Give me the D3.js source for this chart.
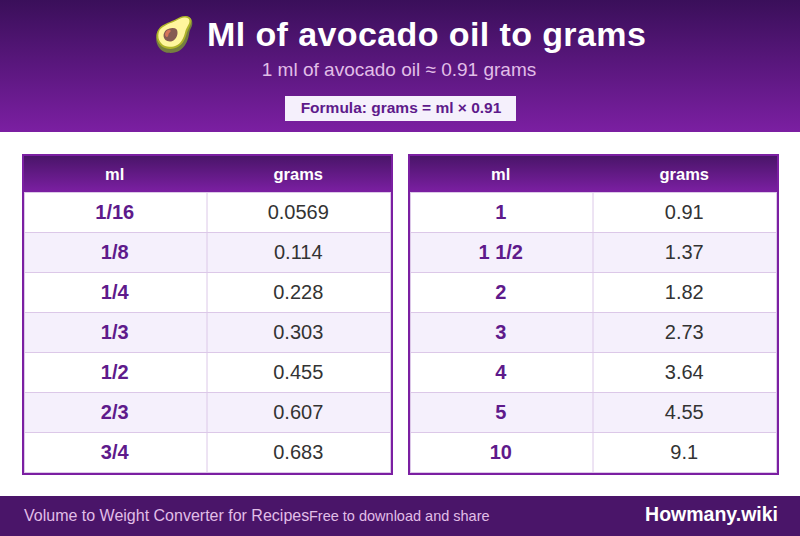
<!DOCTYPE html>
<html>
<head>
<meta charset="utf-8">
<script src="https://cdn.jsdelivr.net/npm/d3@7"></script>
<style>
  html, body { margin: 0; padding: 0; background: #fff; }
  svg { display: block; font-family: "Liberation Sans", Arial, sans-serif; }
</style>
</head>
<body>
<div id="chart"></div>
<script>
const titleIcon = "🥑";
const title = "Ml of avocado oil to grams";
const subtitle = "1 ml of avocado oil ≈ 0.91 grams";
const formula = "Formula: grams = ml × 0.91";
const footerLeft = "Volume to Weight Converter for Recipes";
const footerMiddle = "Free to download and share";
const footerRight = "Howmany.wiki";
const columns = ["ml", "grams"];
const mlLeft = ["1/16", "1/8", "1/4", "1/3", "1/2", "2/3", "3/4"];
const gramsLeft = ["0.0569", "0.114", "0.228", "0.303", "0.455", "0.607", "0.683"];
const mlRight = ["1", "1 1/2", "2", "3", "4", "5", "10"];
const gramsRight = ["0.91", "1.37", "1.82", "2.73", "3.64", "4.55", "9.1"];

const w = 800;
const h = 536;
const purple = "#7b1fa2";
const darkPurple = "#4a1569";
const accent = "#5e1a8b";
const cellLine = "#dcc8e8";
const paleText = "#e1bee7";

const svg = d3.select("#chart").append("svg").attr("width", w).attr("height", h);

const defs = svg.append("defs");
const addGradient = (id, from, to) => {
  const g = defs.append("linearGradient").attr("id", id)
    .attr("x1", 0).attr("y1", 0).attr("x2", 0).attr("y2", 1);
  g.append("stop").attr("offset", "0%").attr("stop-color", from);
  g.append("stop").attr("offset", "100%").attr("stop-color", to);
};
addGradient("headerGrad", "#3a0f5a", purple);
addGradient("theadGrad", darkPurple, purple);

// header band
svg.append("rect").attr("width", w).attr("height", 132).attr("fill", "url(#headerGrad)");
svg.append("text").attr("x", 174).attr("y", 46).attr("text-anchor", "middle")
  .attr("font-size", 34).attr("fill", "#fff").text(titleIcon);
svg.append("text").attr("x", 207).attr("y", 46)
  .attr("font-size", 34).attr("font-weight", "bold").attr("fill", "#fff")
  .style("letter-spacing", "0.4px").text(title);
svg.append("text").attr("x", 399).attr("y", 76).attr("text-anchor", "middle")
  .attr("font-size", 19).attr("fill", paleText).text(subtitle);
svg.append("rect").attr("x", 285).attr("y", 96).attr("width", 231).attr("height", 25).attr("fill", "#f5f0fc");
svg.append("text").attr("x", 401).attr("y", 113).attr("text-anchor", "middle")
  .attr("font-size", 15.5).attr("font-weight", "bold").attr("fill", accent).text(formula);

const drawTable = (x0, ml, grams) => {
  const rows = ml.map((d, i) => ({ ml: d, grams: grams[i] }));
  const x = d3.scaleBand().domain(columns).range([x0 + 2, x0 + 369]);
  const y = d3.scaleBand().domain(d3.range(rows.length)).range([192, 472]);
  const g = svg.append("g");

  g.append("rect").attr("x", x0 + 1).attr("y", 155).attr("width", 369).attr("height", 319)
    .attr("fill", "#fff").attr("stroke", purple).attr("stroke-width", 2);
  g.append("rect").attr("x", x0 + 2).attr("y", 156).attr("width", 367).attr("height", 36)
    .attr("fill", "url(#theadGrad)");

  g.selectAll(".head").data(columns).enter().append("text")
    .attr("class", "head")
    .attr("x", (d) => x(d) + x.bandwidth() / 2 - 1).attr("y", 180)
    .attr("text-anchor", "middle").attr("font-size", 16.5).attr("font-weight", "bold")
    .attr("fill", "#fff").text((d) => d);

  const row = g.selectAll(".row").data(rows).enter().append("g")
    .attr("class", "row")
    .attr("transform", (d, i) => `translate(0,${y(i)})`);
  row.append("rect").attr("x", x0 + 2).attr("y", 0).attr("width", 367).attr("height", y.bandwidth())
    .attr("fill", (d, i) => (i % 2 ? "#f5f0fc" : "#fff"));
  row.append("text").attr("x", x("ml") + x.bandwidth() / 2 - 1).attr("y", 27)
    .attr("text-anchor", "middle").attr("font-size", 20).attr("font-weight", "bold")
    .attr("fill", accent).text((d) => d.ml);
  row.append("text").attr("x", x("grams") + x.bandwidth() / 2 - 1).attr("y", 27)
    .attr("text-anchor", "middle").attr("font-size", 20).attr("fill", "#333").text((d) => d.grams);

  // cell borders go on top of the row fills
  const border = g.append("g").attr("fill", "none").attr("stroke", cellLine);
  border.selectAll(".rowline").data(rows).enter().append("line")
    .attr("class", "rowline")
    .attr("x1", x0 + 2).attr("x2", x0 + 369)
    .attr("y1", (d, i) => y(i) + 0.5).attr("y2", (d, i) => y(i) + 0.5);
  border.append("rect").attr("x", x0 + 2.5).attr("y", 192.5).attr("width", 366).attr("height", 280);
  border.append("line").attr("x1", x("grams") - 0.5).attr("x2", x("grams") - 0.5).attr("y1", 192).attr("y2", 473);
};
drawTable(22, mlLeft, gramsLeft);
drawTable(408, mlRight, gramsRight);

// footer band
svg.append("rect").attr("y", 496).attr("width", w).attr("height", 40).attr("fill", darkPurple);
svg.append("text").attr("x", 24).attr("y", 521).attr("font-size", 16).attr("fill", paleText).text(footerLeft);
svg.append("text").attr("x", 309).attr("y", 521).attr("font-size", 14.5).attr("fill", paleText).text(footerMiddle);
svg.append("text").attr("x", 778).attr("y", 521).attr("text-anchor", "end")
  .attr("font-size", 19.5).attr("font-weight", "bold").attr("fill", "#fff").text(footerRight);
</script>
</body>
</html>
